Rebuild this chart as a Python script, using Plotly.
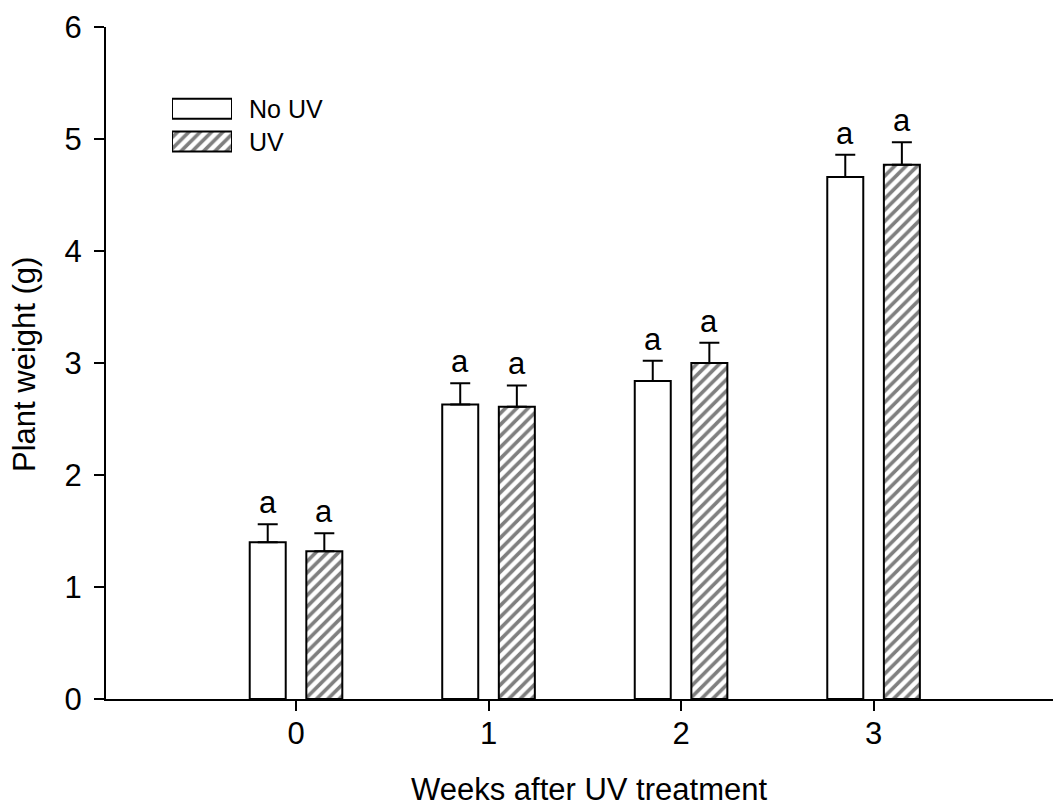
import plotly.graph_objects as go

# Plant weight (g) per week after UV treatment, mean with upper error
weeks = [0, 1, 2, 3]
no_uv_mean = [1.40, 2.63, 2.84, 4.66]
no_uv_err = [0.16, 0.19, 0.18, 0.20]
uv_mean = [1.32, 2.61, 3.00, 4.77]
uv_err = [0.16, 0.19, 0.18, 0.20]
no_uv_letters = ["a", "a", "a", "a"]
uv_letters = ["a", "a", "a", "a"]
series_names = ["No UV", "UV"]

FONT = "Liberation Sans, Arial, sans-serif"
FS = 31          # axis titles, tick labels, letters
FS_LEG = 25      # legend labels
BAR_W = 0.187
GAP_HALF = 0.147

# pixel geometry of the plotting area
W, H = 1053, 808
L, R, T, B = 106, 0, 27, 109
pw, ph = W - L - R, H - T - B


def px_x(px):
    return (px - L) / pw


def px_y(py):
    return (H - B - py) / ph


hatch = dict(shape="/", fgcolor="black", bgcolor="white", size=8, solidity=0.45)

fig = go.Figure()
fig.add_trace(go.Bar(
    x=weeks, y=no_uv_mean, width=BAR_W, offset=-GAP_HALF - BAR_W / 2,
    marker=dict(color="white", line=dict(color="black", width=2)),
    error_y=dict(type="data", array=no_uv_err, arrayminus=[0] * 4, symmetric=False,
                 color="black", thickness=2, width=10),
    name=series_names[0], showlegend=False,
))
fig.add_trace(go.Bar(
    x=weeks, y=uv_mean, width=BAR_W, offset=GAP_HALF - BAR_W / 2,
    marker=dict(color="white", line=dict(color="black", width=2), pattern=hatch),
    error_y=dict(type="data", array=uv_err, arrayminus=[0] * 4, symmetric=False,
                 color="black", thickness=2, width=10),
    name=series_names[1], showlegend=False,
))

# legend keys drawn as small bars in an inset subplot
fig.add_trace(go.Bar(
    x=[1], y=[1], base=0, orientation="h", width=0.61, xaxis="x2", yaxis="y2",
    marker=dict(color="white", line=dict(color="black", width=2)),
    showlegend=False, cliponaxis=False, hoverinfo="skip",
))
fig.add_trace(go.Bar(
    x=[1], y=[0], base=0, orientation="h", width=0.61, xaxis="x2", yaxis="y2",
    marker=dict(color="white", line=dict(color="black", width=2), pattern=hatch),
    showlegend=False, cliponaxis=False, hoverinfo="skip",
))

annotations = []
for wk, m, e, t in zip(weeks, no_uv_mean, no_uv_err, no_uv_letters):
    annotations.append(dict(x=wk - GAP_HALF, y=m + e, xref="x", yref="y", text=t,
                            showarrow=False, yanchor="bottom", yshift=2,
                            font=dict(family=FONT, size=FS, color="black")))
for wk, m, e, t in zip(weeks, uv_mean, uv_err, uv_letters):
    annotations.append(dict(x=wk + GAP_HALF, y=m + e, xref="x", yref="y", text=t,
                            showarrow=False, yanchor="bottom", yshift=2,
                            font=dict(family=FONT, size=FS, color="black")))

# legend labels
annotations.append(dict(x=px_x(247), y=px_y(108.7), xref="paper", yref="paper",
                        text=series_names[0], showarrow=False, xanchor="left",
                        yanchor="middle", font=dict(family=FONT, size=FS_LEG, color="black")))
annotations.append(dict(x=px_x(247), y=px_y(141.5), xref="paper", yref="paper",
                        text=series_names[1], showarrow=False, xanchor="left",
                        yanchor="middle", font=dict(family=FONT, size=FS_LEG, color="black")))

# axis titles
annotations.append(dict(x=px_x(589), y=px_y(789), xref="paper", yref="paper",
                        text="Weeks after UV treatment", showarrow=False,
                        xanchor="center", yanchor="middle",
                        font=dict(family=FONT, size=FS, color="black")))
annotations.append(dict(x=px_x(24), y=px_y(365), xref="paper", yref="paper",
                        text="Plant weight (g)", showarrow=False, textangle=-90,
                        xanchor="center", yanchor="middle",
                        font=dict(family=FONT, size=FS, color="black")))

fig.update_layout(
    width=W, height=H,
    margin=dict(l=L, r=R, t=T, b=B),
    paper_bgcolor="white", plot_bgcolor="white",
    font=dict(family=FONT, size=FS, color="black"),
    showlegend=False,
    annotations=annotations,
    xaxis=dict(
        range=[-0.987, 3.932], tickmode="array", tickvals=weeks,
        ticktext=[str(w) for w in weeks],
        showline=True, linecolor="black", linewidth=2,
        ticks="outside", ticklen=10, tickwidth=2, tickcolor="black",
        showgrid=False, zeroline=False, ticklabelstandoff=-4,
    ),
    yaxis=dict(
        range=[0, 6], dtick=1, tick0=0,
        showline=True, linecolor="black", linewidth=2,
        ticks="outside", ticklen=10, tickwidth=2, tickcolor="black",
        showgrid=False, zeroline=False, ticklabelstandoff=6,
    ),
    xaxis2=dict(domain=[px_x(172), px_x(232)], range=[0, 1], anchor="y2",
                visible=False, fixedrange=True),
    yaxis2=dict(domain=[px_y(157.9), px_y(92.3)], range=[-0.5, 1.5], anchor="x2",
                visible=False, fixedrange=True),
)

fig.write_html("out.html")
